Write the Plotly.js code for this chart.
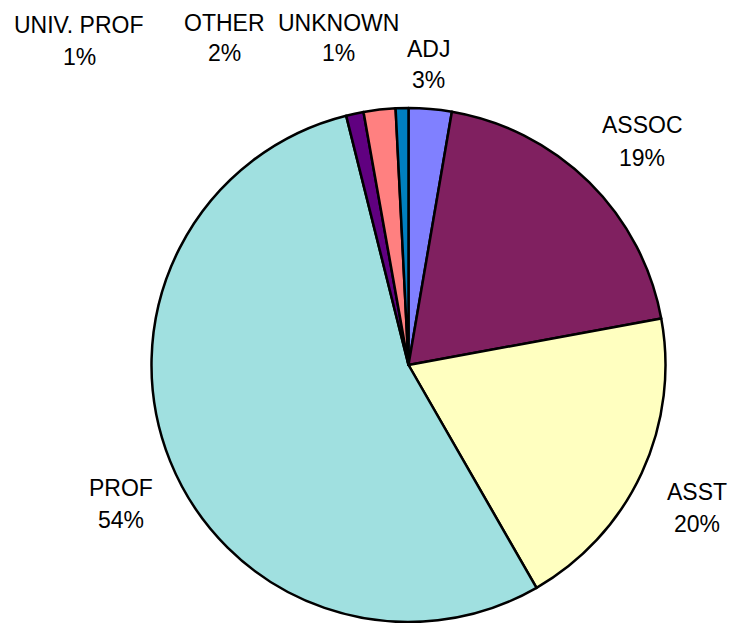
<!DOCTYPE html>
<html>
<head>
<meta charset="utf-8">
<script src="https://cdn.plot.ly/plotly-3.0.1.min.js"></script>
<style>html,body{margin:0;padding:0;background:#fff;}#chart{width:736px;height:623px;}</style>
</head>
<body>
<div id="chart"></div>
<script>
const categories = ["ADJ", "ASSOC", "ASST", "PROF", "UNIV. PROF", "OTHER", "UNKNOWN"];
const values = [2.7, 19.4, 19.6, 54.4, 1.1, 2.0, 0.8];
const colors = ["#8080FF", "#802060", "#FFFFC0", "#A0E0E0", "#600080", "#FF8080", "#0080C0"];

// label placement (pixel centres of name line and percent line)
const labelPos = {
  "ADJ":        {x: 429, y1: 49,  y2: 80},
  "ASSOC":      {x: 642, y1: 125, y2: 158},
  "ASST":       {x: 697, y1: 492, y2: 524},
  "PROF":       {x: 121, y1: 488, y2: 520},
  "UNIV. PROF": {x: 79,  y1: 25,  y2: 57},
  "OTHER":      {x: 224, y1: 23,  y2: 53},
  "UNKNOWN":    {x: 338, y1: 23,  y2: 53}
};

const W = 736, H = 623;
const total = values.reduce((a, b) => a + b, 0);
const font = {family: "Liberation Sans, Arial, sans-serif", size: 23, color: "#000"};
const annotations = [];
categories.forEach((c, i) => {
  const p = labelPos[c];
  annotations.push({text: c, x: p.x / W, y: 1 - p.y1 / H, xref: "paper", yref: "paper",
    xanchor: "center", yanchor: "middle", showarrow: false, font: font});
  annotations.push({text: Math.round(values[i] / total * 100) + "%", x: p.x / W, y: 1 - p.y2 / H,
    xref: "paper", yref: "paper", xanchor: "center", yanchor: "middle", showarrow: false, font: font});
});

const trace = {
  type: "pie",
  labels: categories,
  values: values,
  sort: false,
  direction: "clockwise",
  rotation: 0,
  textinfo: "none",
  hoverinfo: "label+percent",
  marker: {colors: colors, line: {color: "#000", width: 2.5}},
  domain: {x: [151.5 / W, 665.5 / W], y: [1 / H, 515 / H]}
};

const layout = {
  width: W, height: H,
  margin: {l: 0, r: 0, t: 0, b: 0},
  showlegend: false,
  paper_bgcolor: "#fff",
  annotations: annotations
};

Plotly.newPlot("chart", [trace], layout, {displayModeBar: false, staticPlot: true});
</script>
</body>
</html>
